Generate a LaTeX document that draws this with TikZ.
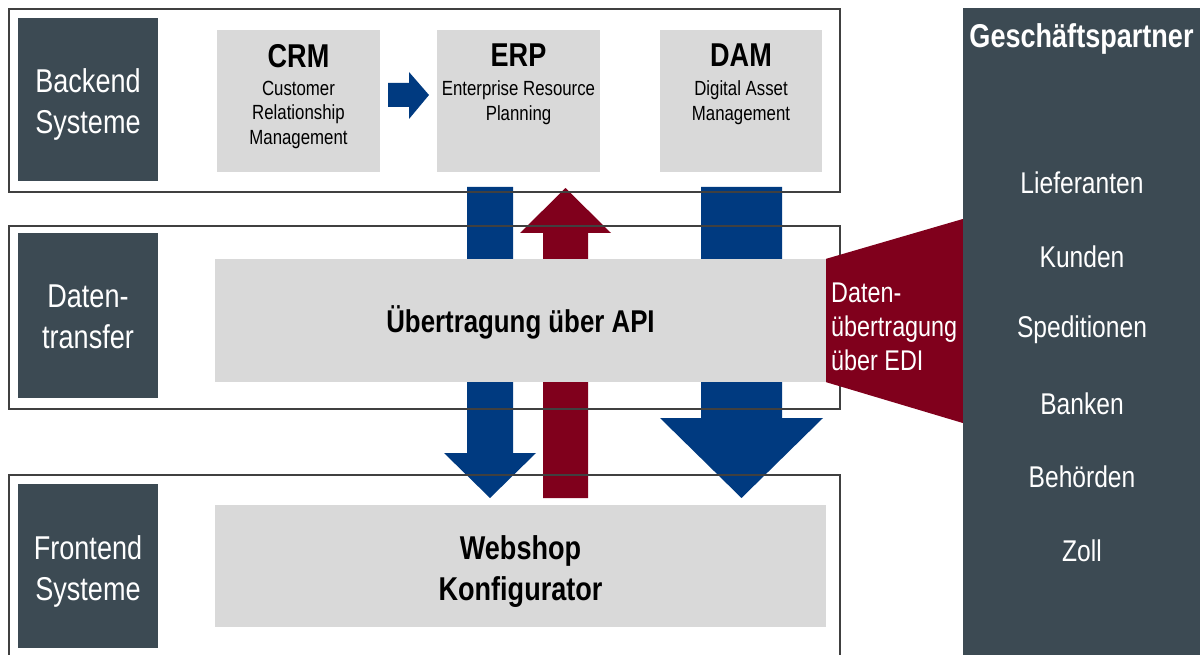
\documentclass[tikz,border=0pt]{standalone}
\usepackage{fontspec}
\setmainfont{Liberation Sans}[FakeStretch=0.82]
\usetikzlibrary{positioning}

\definecolor{slate}{HTML}{3C4A53}
\definecolor{boxgray}{HTML}{D9D9D9}
\definecolor{apiblue}{HTML}{003A80}
\definecolor{edired}{HTML}{80001C}

\tikzset{
  layer/.style={draw=black!75, line width=1.2pt},
  sidebox/.style={fill=slate, inner sep=0pt, minimum width=140pt, minimum height=164pt},
  sidelabel/.style={text=white, inner sep=0pt, align=center, font=\fontsize{33}{41}\selectfont},
  system/.style={fill=boxgray, inner sep=0pt, minimum width=163pt, minimum height=142pt},
  systitle/.style={anchor=north, inner sep=0pt, font=\bfseries\fontsize{33}{40}\selectfont},
  sysname/.style={anchor=north, inner sep=0pt, align=center, font=\fontsize{20.5}{24.5}\selectfont},
  bar/.style={fill=boxgray, inner sep=0pt, minimum width=611pt, minimum height=123pt},
  bartext/.style={inner sep=0pt, align=center, font=\bfseries\fontsize{33}{41}\selectfont},
  partner/.style={text=white, inner sep=0pt, font=\fontsize{30}{36}\selectfont},
}

\begin{document}
\begin{tikzpicture}[x=1pt,y=-1pt,node distance=73.5pt]
    \useasboundingbox (0,0) rectangle (1200,655);

    % blue and red block arrows behind the layers
    \fill[apiblue] (467,187) -- (513,187) -- (513,453) -- (536,453) -- (490,498)
        -- (444,453) -- (467,453) -- cycle;
    \fill[edired] (543,498) -- (588,498) -- (588,233) -- (611,233) -- (565.5,188)
        -- (520,233) -- (543,233) -- cycle;
    \fill[apiblue] (701,187) -- (782,187) -- (782,418) -- (823,418) -- (741.5,498)
        -- (660,418) -- (701,418) -- cycle;

    % layers
    \draw[layer] (9,9) rectangle (840,192);
    \draw[layer] (9,226) rectangle (840,409);
    \draw[layer] (9,475) rectangle (840,670);

    \node[sidebox, minimum height=163pt] (backend) at (88,99.5) {};
    \node[sidebox] (transfer) at (88,315.5) {};
    \node[sidebox] (frontend) at (88,566) {};
    \node[sidelabel] at ([yshift=-5pt]backend.center) {Backend\\Systeme};
    \node[sidelabel] at ([yshift=-1pt]transfer.center) {Daten-\\transfer};
    \node[sidelabel] at ([yshift=-5pt]frontend.center) {Frontend\\Systeme};

    % backend systems
    \node[system] (crm) at (298.5,101) {};
    \node[system] (erp) at (518.5,101) {};
    \node[system, minimum width=162pt] (dam) at (741,101) {};

    \node[systitle] (crmtitle) at ([yshift=-14pt]crm.north) {CRM};
    \node[sysname] at ([yshift=-51pt]crm.north) {Customer\\Relationship\\Management};
    \node[systitle] (erptitle) at ([yshift=-14pt]erp.north) {ERP};
    \node[sysname] at ([yshift=-51pt]erp.north) {Enterprise Resource\\Planning};
    \node[systitle] (damtitle) at ([yshift=-14pt]dam.north) {DAM};
    \node[sysname] at ([yshift=-51pt]dam.north) {Digital Asset\\Management};

    \fill[apiblue] (388,83) -- (409,83) -- (409,72) -- (429,95) -- (409,119)
        -- (409,107) -- (388,107) -- cycle;

    % data transfer and frontend
    \node[bar] (api) at (520.5,320.5) {};
    \node[bartext, font=\bfseries\fontsize{31.5}{40}\selectfont] at ([yshift=-2pt]api.center)
        {Übertragung über API};
    \node[bar, minimum height=122pt] (webshop) at (520.5,566) {};
    \node[bartext] at ([yshift=-6pt]webshop.center) {Webshop\\Konfigurator};

    % business partners
    \node[fill=slate, inner sep=0pt, minimum width=237pt, minimum height=647pt] (partners)
        at (1081.5,331.5) {};
    \node[partner, anchor=north, font=\bfseries\fontsize{33}{40}\selectfont] (gp)
        at ([yshift=-16pt]partners.north) {Geschäftspartner};
    \node[partner] (lief) at (1082,183) {Lieferanten};
    \node[partner] (kunden) [below of=lief] {Kunden};
    \node[partner] (sped) [below of=kunden] {Speditionen};
    \node[partner] (banken) [below of=sped] {Banken};
    \node[partner] (behoerden) [below of=banken] {Behörden};
    \node[partner] (zoll) [below of=behoerden] {Zoll};

    \fill[edired] (api.north east) -- (partners.west |- 0,219) -- (partners.west |- 0,423)
        -- (api.south east) -- cycle;
    \node[text=white, anchor=west, inner sep=0pt, align=left,
        font=\fontsize{28.5}{34}\selectfont] (edi) at (831,327)
        {Daten-\\übertragung\\über EDI};
\end{tikzpicture}
\end{document}
